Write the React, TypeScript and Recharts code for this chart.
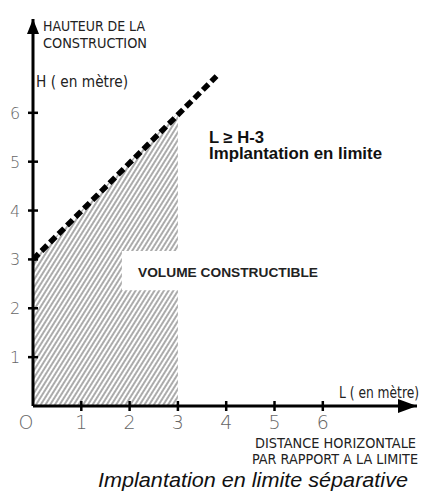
import React from 'react';
import { ComposedChart, XAxis, YAxis, Line, Area, ReferenceDot } from 'recharts';

// ---- data ----
const xTicks = [0, 1, 2, 3, 4, 5, 6];
const xTickLabels = ['O', '1', '2', '3', '4', '5', '6'];
const yTicks = [1, 2, 3, 4, 5, 6];
const yTickLabels = ['1', '2', '3', '4', '5', '6'];

// limit line L >= H-3  (H = L + 3)
const limitLine = [
  { x: 0, y: 3 },
  { x: 3.8, y: 6.75 },
];

// hatched constructible volume (with blank notch behind the label)
const hatchLower = [
  { x: 0, range: [0, 3] },
  { x: 1.84, range: [0, 4.84] },
  { x: 1.84, range: [0, 2.37] },
  { x: 3, range: [0, 2.37] },
];
const hatchUpper = [
  { x: 1.84, range: [3.17, 4.84] },
  { x: 3, range: [3.17, 6] },
];

const hand = "'DejaVu Sans Condensed', 'Liberation Sans Narrow', sans-serif";
const sans = "'Liberation Sans', Arial, sans-serif";

const XTick = (props: any) => {
  const { x, y, payload } = props;
  const v = payload.value;
  const idx = xTicks.indexOf(v);
  return (
    <g>
      {v !== 0 && <line x1={x} x2={x} y1={y - 5} y2={y + 5} stroke="#000" strokeWidth={2.5} />}
      <text
        x={x + (v === 0 ? -7 : 0)}
        y={y + 23}
        textAnchor="middle"
        fontFamily="'DejaVu Sans', sans-serif"
        fontWeight={200}
        fontSize={19}
        fill="#666"
      >
        {xTickLabels[idx]}
      </text>
    </g>
  );
};

const YTick = (props: any) => {
  const { x, y, payload } = props;
  const idx = yTicks.indexOf(payload.value);
  return (
    <g>
      <line x1={x - 5} x2={x + 5} y1={y} y2={y} stroke="#000" strokeWidth={2.5} />
      <text
        x={x - 18}
        y={y + 6}
        textAnchor="middle"
        fontFamily="'DejaVu Sans', sans-serif"
        fontWeight={200}
        fontSize={16}
        fill="#666"
      >
        {yTickLabels[idx]}
      </text>
    </g>
  );
};

const XArrow = (p: any) => (
  <polygon points={`${p.cx},${p.cy} ${p.cx - 19},${p.cy - 7} ${p.cx - 19},${p.cy + 7}`} fill="#000" />
);
const YArrow = (p: any) => (
  <polygon points={`${p.cx},${p.cy} ${p.cx - 6},${p.cy + 15} ${p.cx + 6},${p.cy + 15}`} fill="#000" />
);

export default function App() {
  return (
    <div style={{ position: 'absolute', left: 0, top: 0, width: 430, height: 491, background: '#fff' }}>
      <ComposedChart
        width={430}
        height={491}
        margin={{ top: 19, right: 13, left: 0, bottom: 0 }}
      >
        <defs>
          <pattern
            id="hatch"
            patternUnits="userSpaceOnUse"
            width={4}
            height={10}
            patternTransform="rotate(32)"
          >
            <line x1={1} y1={0} x2={1} y2={10} stroke="#444" strokeWidth={0.9} />
          </pattern>
        </defs>
        <XAxis
          type="number"
          dataKey="x"
          domain={[0, 7.95]}
          allowDataOverflow
          ticks={xTicks}
          interval={0}
          height={85}
          axisLine={{ stroke: '#000', strokeWidth: 3 }}
          tickLine={false}
          tickSize={0}
          tickMargin={0}
          tick={<XTick />}
        />
        <YAxis
          type="number"
          domain={[0, 7.92]}
          allowDataOverflow
          ticks={yTicks}
          interval={0}
          width={33}
          axisLine={{ stroke: '#000', strokeWidth: 3 }}
          tickLine={false}
          tickSize={0}
          tickMargin={0}
          tick={<YTick />}
        />
        <Area
          data={hatchLower}
          dataKey="range"
          type="linear"
          stroke="none"
          fill="url(#hatch)"
          fillOpacity={1}
          isAnimationActive={false}
          dot={false}
          activeDot={false}
        />
        <Area
          data={hatchUpper}
          dataKey="range"
          type="linear"
          stroke="none"
          fill="url(#hatch)"
          fillOpacity={1}
          isAnimationActive={false}
          dot={false}
          activeDot={false}
        />
        <Line
          data={limitLine}
          dataKey="y"
          type="linear"
          stroke="#000"
          strokeWidth={5.5}
          strokeDasharray="8 4"
          dot={false}
          activeDot={false}
          isAnimationActive={false}
        />
        <ReferenceDot x={7.95} y={0} r={0} shape={<XArrow />} ifOverflow="visible" />
        <ReferenceDot x={0} y={7.92} r={0} shape={<YArrow />} ifOverflow="visible" />

        <text x={43} y={31} fontFamily={hand} fontSize={14} fill="#222" textLength={102} lengthAdjust="spacingAndGlyphs">HAUTEUR DE LA</text>
        <text x={43} y={48} fontFamily={hand} fontSize={14} fill="#222" textLength={104} lengthAdjust="spacingAndGlyphs">CONSTRUCTION</text>
        <text x={36} y={87} fontFamily={hand} fontSize={16} fill="#222" textLength={92} lengthAdjust="spacingAndGlyphs">H ( en mètre)</text>
        <text x={339} y={398} fontFamily={hand} fontSize={15} fill="#222" textLength={80} lengthAdjust="spacingAndGlyphs">L ( en mètre)</text>
        <text x={255} y={448} fontFamily={hand} fontSize={14} fill="#222" textLength={161} lengthAdjust="spacingAndGlyphs">DISTANCE HORIZONTALE</text>
        <text x={252} y={464} fontFamily={hand} fontSize={14} fill="#222" textLength={166} lengthAdjust="spacingAndGlyphs">PAR RAPPORT A LA LIMITE</text>

        <text x={209} y={143} fontFamily={sans} fontWeight="bold" fontSize={16} fill="#111" textLength={55} lengthAdjust="spacingAndGlyphs">L ≥ H-3</text>
        <text x={209} y={159} fontFamily={sans} fontWeight="bold" fontSize={16} fill="#111" textLength={173} lengthAdjust="spacingAndGlyphs">Implantation en limite</text>
        <text x={138} y={277} fontFamily={sans} fontWeight="bold" fontSize={13.5} fill="#222" textLength={180} lengthAdjust="spacingAndGlyphs">VOLUME CONSTRUCTIBLE</text>

        <text x={98} y={487} fontFamily={sans} fontStyle="italic" fontSize={20} fill="#111" textLength={310} lengthAdjust="spacingAndGlyphs">Implantation en limite séparative</text>
      </ComposedChart>
    </div>
  );
}
